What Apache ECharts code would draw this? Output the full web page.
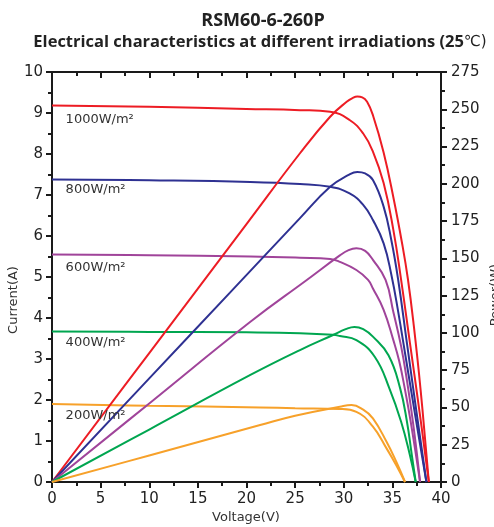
<!DOCTYPE html>
<html>
<head>
<meta charset="utf-8">
<script src="https://cdn.jsdelivr.net/npm/echarts@6/dist/echarts.min.js"></script>
<style>
html,body{margin:0;padding:0;background:#fff;}
#main{width:494px;height:527px;}
</style>
</head>
<body>
<div id="main"></div>
<script>
// ---- data ----
const titleText = 'RSM60-6-260P';
const subtitleMain = 'Electrical characteristics at different irradiations (25';
const subtitleUnit = '℃)';
const irradiations = ['1000W/m²', '800W/m²', '600W/m²', '400W/m²', '200W/m²'];
const colors = ['#ed1c24', '#2e3192', '#a0449a', '#00a650', '#f7a12a'];

// I-V curves: voltage (V) and current (A)
const iv1000V = [0, 10, 20, 25.5, 28.6, 30.6, 32.0, 33.0, 34.1, 35.1, 35.9, 36.8, 37.8, 38.75];
const iv1000I = [9.18, 9.15, 9.10, 9.07, 9.03, 8.83, 8.50, 8.06, 7.29, 6.15, 4.93, 3.40, 1.70, 0];
const iv800V = [0, 10, 20.4, 25.5, 28.6, 30.6, 32.0, 33.0, 34.1, 34.9, 35.6, 36.4, 37.4, 38.5];
const iv800I = [7.38, 7.36, 7.32, 7.27, 7.20, 7.04, 6.76, 6.39, 5.82, 5.05, 4.15, 3.00, 1.55, 0];
const iv600V = [0, 10, 20.4, 25.5, 28.6, 29.6, 31.3, 32.5, 33.0, 34.1, 35.1, 35.7, 36.3, 36.9, 37.85];
const iv600I = [5.55, 5.53, 5.50, 5.47, 5.44, 5.37, 5.17, 4.93, 4.72, 4.20, 3.46, 2.95, 2.25, 1.45, 0];
const iv400V = [0, 10, 20, 25.5, 28.9, 29.6, 31.3, 33.2, 34.7, 35.9, 36.8, 37.4];
const iv400I = [3.67, 3.66, 3.65, 3.63, 3.59, 3.56, 3.46, 3.05, 2.28, 1.47, 0.66, 0];
const iv200V = [0, 10, 21.4, 25, 29.6, 31.3, 33.0, 34.4, 35.4, 36.3];
const iv200I = [1.90, 1.86, 1.82, 1.80, 1.78, 1.71, 1.35, 0.82, 0.41, 0];

// P-V curves: voltage (V) and power (W)
const pv1000V = [0, 10, 20, 25.5, 28.6, 30.3, 30.9, 31.4, 31.9, 32.4, 33.0, 34.1, 35.1, 36.0, 36.6, 37.2, 37.9, 38.75];
const pv1000P = [0, 86.5, 173, 220.5, 245, 255, 257.5, 258.5, 258, 255, 246, 221, 191, 160, 136, 105, 62, 0];
const pv800V = [0, 10, 18.3, 25.5, 28.6, 30.5, 31.4, 32.2, 33.0, 34.1, 34.9, 35.6, 36.5, 37.5, 38.5];
const pv800P = [0, 69.5, 127, 177, 198, 206, 208, 207, 202.6, 184.7, 162, 135.5, 93, 46, 0];
const pv600V = [0, 10, 20.4, 26.2, 29.6, 30.5, 31.3, 32.2, 33.0, 34.3, 35.1, 35.9, 36.5, 37.2, 37.85];
const pv600P = [0, 52.7, 107.5, 135.5, 152, 155.5, 156.7, 155, 149, 135.5, 114, 91, 68, 36, 0];
const pv400V = [0, 10, 20.4, 25.5, 28.9, 30.2, 31.1, 32.0, 33.0, 34.6, 35.8, 36.5, 37.0, 37.4];
const pv400P = [0, 35.2, 71.8, 88.5, 98.6, 102.5, 104, 102.5, 97.5, 85, 62.8, 40.4, 18, 0];
const pv200V = [0, 10, 21.4, 25, 29.6, 30.8, 32.0, 33.0, 34.4, 35.4, 36.3];
const pv200P = [0, 17.8, 38.2, 44.5, 50.5, 51.6, 48.5, 42.7, 27, 13.6, 0];

// label anchors for irradiation names, in data coordinates [V, A]
const labelV = [1.4, 1.4, 1.4, 1.4, 1.4];
const labelI = [8.83, 7.12, 5.22, 3.41, 1.62];

// axis ticks
const xMin = 0, xMax = 40, xStep = 5;
const iMin = 0, iMax = 10, iStep = 1;
const pMin = 0, pMax = 275, pStep = 25;

// ---- build ----
const zip = (a, b) => a.map((v, k) => [v, b[k]]);
const ivSets = [[iv1000V, iv1000I], [iv800V, iv800I], [iv600V, iv600I], [iv400V, iv400I], [iv200V, iv200I]];
const pvSets = [[pv1000V, pv1000P], [pv800V, pv800P], [pv600V, pv600P], [pv400V, pv400P], [pv200V, pv200P]];

const series = [];
ivSets.forEach((s, k) => series.push({
  type: 'line', name: irradiations[k] + ' I', xAxisIndex: 0, yAxisIndex: 0,
  data: zip(s[0], s[1]), smooth: 0.45, showSymbol: false,
  lineStyle: { color: colors[k], width: 2 }, itemStyle: { color: colors[k] }, z: 3
}));
pvSets.forEach((s, k) => series.push({
  type: 'line', name: irradiations[k] + ' P', xAxisIndex: 0, yAxisIndex: 1,
  data: zip(s[0], s[1]), smooth: 0.45, showSymbol: false,
  lineStyle: { color: colors[k], width: 2 }, itemStyle: { color: colors[k] }, z: 3
}));

const font = 'DejaVu Sans';
const axisLine = { show: true, onZero: false, lineStyle: { color: '#1a1a1a', width: 2 } };

const chart = echarts.init(document.getElementById('main'), null, { renderer: 'canvas' });
chart.setOption({
  animation: false,
  backgroundColor: '#fff',
  title: [
    { text: titleText, left: 258, top: 7, textAlign: 'center',
      textStyle: { fontFamily: 'Open Sans', fontWeight: 'bold', fontSize: 18, color: '#222' } },
    { text: '{b|' + subtitleMain + '}{n|' + subtitleUnit + '}', left: 255, top: 26, textAlign: 'center',
      textStyle: { rich: {
        b: { fontFamily: 'Open Sans', fontWeight: 'bold', fontSize: 16.5, color: '#222', lineHeight: 22, verticalAlign: 'middle' },
        n: { fontFamily: 'DejaVu Sans', fontWeight: 'normal', fontSize: 15, color: '#222', lineHeight: 22, verticalAlign: 'middle' }
      } } }
  ],
  grid: { left: 52, right: 53, top: 72, bottom: 45, containLabel: false },
  xAxis: [
    { type: 'value', min: xMin, max: xMax, interval: xStep, position: 'bottom',
      axisLine: axisLine,
      axisTick: { show: true, inside: false, length: 6, lineStyle: { color: '#1a1a1a', width: 2 } },
      minorTick: { show: true, splitNumber: 2, length: 4, lineStyle: { color: '#1a1a1a', width: 2 } },
      axisLabel: { fontFamily: font, fontSize: 15, color: '#222', margin: 10 },
      splitLine: { show: false } },
    { type: 'value', min: xMin, max: xMax, interval: xStep, position: 'top',
      axisLine: axisLine,
      axisTick: { show: true, inside: true, length: 6, lineStyle: { color: '#1a1a1a', width: 2 } },
      minorTick: { show: true, splitNumber: 2, length: 4, lineStyle: { color: '#1a1a1a', width: 2 } },
      axisLabel: { show: false }, splitLine: { show: false } }
  ],
  yAxis: [
    { type: 'value', min: iMin, max: iMax, interval: iStep, position: 'left',
      axisLine: axisLine,
      axisTick: { show: true, inside: false, length: 6, lineStyle: { color: '#1a1a1a', width: 2 } },
      minorTick: { show: true, splitNumber: 2, length: 4, lineStyle: { color: '#1a1a1a', width: 2 } },
      axisLabel: { fontFamily: font, fontSize: 15, color: '#222', margin: 9 },
      splitLine: { show: false } },
    { type: 'value', min: pMin, max: pMax, interval: pStep, position: 'right',
      axisLine: axisLine,
      axisTick: { show: true, inside: false, length: 6, lineStyle: { color: '#1a1a1a', width: 2 } },
      minorTick: { show: true, splitNumber: 2, length: 4, lineStyle: { color: '#1a1a1a', width: 2 } },
      axisLabel: { fontFamily: font, fontSize: 15, color: '#222', margin: 10 },
      splitLine: { show: false } }
  ],
  series: series
});

// axis names and irradiation labels as text
const graphics = [
  { type: 'text', x: 14, y: 300, rotation: Math.PI / 2,
    style: { text: 'Current(A)', fontFamily: font, fontSize: 13, fill: '#333', align: 'center', verticalAlign: 'middle' } },
  { type: 'text', x: 496, y: 295, rotation: Math.PI / 2,
    style: { text: 'Power(W)', fontFamily: font, fontSize: 13, fill: '#333', align: 'center', verticalAlign: 'middle' } },
  { type: 'text', x: 246, y: 518,
    style: { text: 'Voltage(V)', fontFamily: font, fontSize: 13, fill: '#333', align: 'center', verticalAlign: 'middle' } }
];
irradiations.forEach((t, k) => {
  const p = chart.convertToPixel({ gridIndex: 0 }, [labelV[k], labelI[k]]);
  graphics.push({ type: 'text', x: p[0], y: p[1], z: 10,
    style: { text: t, fontFamily: font, fontSize: 13, fill: '#333', align: 'left', verticalAlign: 'middle' } });
});
chart.setOption({ graphic: graphics });
</script>
</body>
</html>
